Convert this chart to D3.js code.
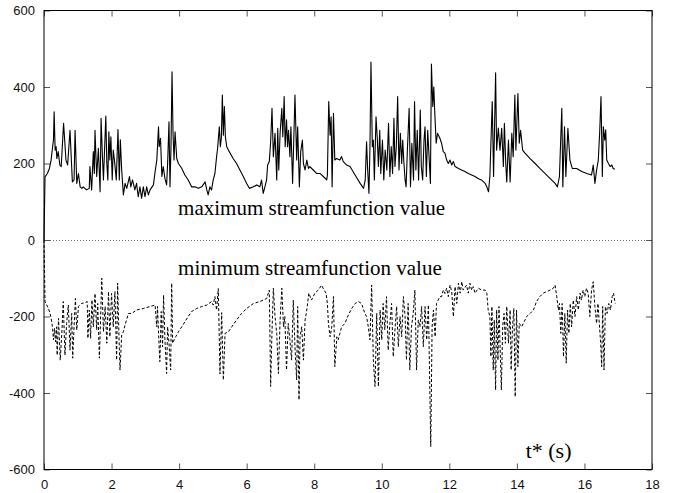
<!DOCTYPE html>
<html>
<head>
<meta charset="utf-8">
<script src="https://cdn.jsdelivr.net/npm/d3@7"></script>
<style>
html,body{margin:0;padding:0;background:#fff;}
svg{display:block;}
</style>
</head>
<body>
<svg id="chart" width="673" height="493"></svg>
<script>
// ---- data ----
const xTicks = [0, 2, 4, 6, 8, 10, 12, 14, 16, 18];
const yTicks = [-600, -400, -200, 0, 200, 400, 600];

const tMax = [0,0.03,0.10,0.16,0.21,0.25,0.28,0.30,0.33,0.36,0.38,0.42,0.47,0.51,0.58,0.65,0.70,0.77,0.84,0.89,0.92,0.97,1.02,1.07,1.12,1.16,1.26,1.34,1.36,1.41,1.46,1.49,1.51,1.56,1.61,1.66,1.69,1.73,1.76,1.83,1.86,1.89,1.92,1.95,1.98,2.02,2.05,2.09,2.14,2.19,2.23,2.26,2.30,2.35,2.40,2.45,2.53,2.57,2.62,2.69,2.74,2.79,2.84,2.89,2.94,2.99,3.04,3.09,3.14,3.24,3.29,3.34,3.39,3.41,3.45,3.49,3.53,3.58,3.63,3.66,3.70,3.73,3.76,3.79,3.82,3.85,3.88,3.93,3.98,4.08,4.17,4.27,4.37,4.47,4.57,4.67,4.77,4.82,4.86,4.91,4.96,5.01,5.06,5.11,5.14,5.19,5.22,5.25,5.28,5.31,5.34,5.37,5.41,5.46,5.51,5.60,5.70,5.80,5.90,6.00,6.08,6.20,6.30,6.39,6.44,6.49,6.54,6.59,6.62,6.67,6.71,6.75,6.79,6.84,6.89,6.92,6.95,6.99,7.04,7.07,7.11,7.14,7.18,7.21,7.24,7.28,7.31,7.36,7.43,7.48,7.51,7.56,7.60,7.65,7.68,7.73,7.78,7.83,7.87,7.97,8.07,8.17,8.27,8.37,8.39,8.43,8.47,8.50,8.53,8.57,8.61,8.66,8.76,8.81,8.86,8.96,9.06,9.21,9.36,9.46,9.51,9.55,9.58,9.62,9.65,9.68,9.72,9.75,9.78,9.83,9.87,9.90,9.94,9.97,10.02,10.06,10.10,10.15,10.20,10.24,10.28,10.32,10.36,10.39,10.43,10.47,10.51,10.55,10.59,10.62,10.65,10.69,10.72,10.76,10.81,10.85,10.89,10.94,10.97,11.01,11.05,11.09,11.14,11.17,11.21,11.25,11.28,11.32,11.36,11.40,11.44,11.47,11.51,11.54,11.57,11.61,11.65,11.72,11.77,11.82,11.87,11.92,11.97,12.02,12.07,12.12,12.17,12.27,12.36,12.46,12.56,12.66,12.76,12.85,12.95,13.06,13.11,13.16,13.20,13.27,13.31,13.37,13.40,13.45,13.50,13.55,13.60,13.63,13.67,13.70,13.75,13.80,13.85,13.89,13.94,13.97,14.03,14.07,14.11,14.17,14.24,14.39,14.54,14.68,14.83,14.98,15.13,15.20,15.26,15.30,15.33,15.36,15.41,15.45,15.51,15.57,15.64,15.77,15.92,16.07,16.21,16.26,16.31,16.36,16.41,16.45,16.49,16.53,16.56,16.60,16.63,16.66,16.71,16.76,16.81,16.85,16.90];
const vMax = [0,165,174,187,209,240,261,335,235,244,213,231,196,192,305,209,196,287,152,157,287,148,174,139,135,139,131,135,192,131,231,174,287,166,240,126,318,218,157,324,200,157,283,209,270,157,235,205,157,289,157,262,183,118,148,135,166,139,157,131,148,113,139,109,139,113,139,118,131,144,179,209,296,244,266,166,192,161,144,200,309,139,244,440,279,209,283,213,200,187,170,157,139,139,135,139,152,131,118,139,131,157,174,218,240,296,244,266,379,274,349,270,244,235,227,213,200,183,166,148,135,139,144,139,157,122,139,157,196,205,257,344,218,279,157,292,183,279,344,270,375,244,314,244,287,218,296,148,379,209,296,139,231,261,200,183,209,187,192,183,174,174,166,157,170,362,274,322,139,331,209,213,209,218,205,196,192,170,148,135,157,257,187,122,244,465,244,261,157,322,261,192,287,174,261,157,235,183,305,166,244,174,318,192,244,375,183,279,200,261,209,157,139,240,344,139,253,157,362,183,287,157,340,192,157,261,296,166,287,218,148,460,349,400,331,253,279,266,253,231,227,209,200,209,196,205,192,187,183,179,174,170,166,161,157,148,139,126,166,362,166,437,235,293,235,292,192,305,200,152,261,152,279,218,379,235,383,253,287,235,227,213,200,187,174,161,148,139,166,270,344,139,296,166,292,209,187,187,179,174,170,196,148,183,209,279,375,166,296,261,288,209,200,192,196,187,185];

const tMin = [0,0.03,0.08,0.13,0.18,0.21,0.25,0.28,0.31,0.34,0.37,0.39,0.43,0.48,0.53,0.57,0.62,0.67,0.72,0.77,0.82,0.85,0.89,0.93,0.97,1.02,1.11,1.21,1.28,1.30,1.34,1.38,1.42,1.46,1.51,1.56,1.59,1.64,1.71,1.76,1.81,1.86,1.91,1.95,2.00,2.05,2.10,2.15,2.18,2.22,2.25,2.30,2.35,2.40,2.50,2.60,2.74,2.94,3.14,3.29,3.34,3.36,3.40,3.43,3.47,3.51,3.54,3.58,3.63,3.66,3.70,3.75,3.78,3.81,3.85,3.90,3.98,4.08,4.17,4.27,4.37,4.52,4.67,4.82,4.96,5.01,5.06,5.11,5.16,5.21,5.26,5.31,5.36,5.46,5.56,5.70,5.85,6.00,6.20,6.39,6.59,6.67,6.71,6.74,6.79,6.84,6.89,6.94,6.99,7.04,7.09,7.13,7.18,7.23,7.28,7.33,7.38,7.43,7.48,7.51,7.55,7.58,7.63,7.68,7.73,7.78,7.84,7.92,8.02,8.12,8.22,8.29,8.35,8.39,8.42,8.47,8.52,8.57,8.61,8.67,8.71,8.76,8.81,8.91,9.01,9.11,9.21,9.31,9.40,9.45,9.50,9.55,9.60,9.65,9.70,9.75,9.80,9.85,9.90,9.95,10.00,10.04,10.09,10.14,10.19,10.24,10.29,10.34,10.39,10.44,10.49,10.54,10.59,10.64,10.69,10.73,10.78,10.83,10.88,10.93,10.98,11.03,11.08,11.13,11.18,11.23,11.28,11.33,11.38,11.41,11.45,11.49,11.53,11.58,11.62,11.72,11.77,11.82,11.87,11.92,11.97,12.02,12.07,12.12,12.17,12.22,12.27,12.32,12.37,12.41,12.51,12.56,12.61,12.66,12.71,12.76,12.86,12.96,13.06,13.11,13.15,13.20,13.23,13.26,13.30,13.33,13.37,13.40,13.44,13.47,13.50,13.54,13.58,13.62,13.66,13.70,13.75,13.80,13.83,13.87,13.91,13.95,13.99,14.03,14.07,14.14,14.19,14.29,14.39,14.49,14.58,14.68,14.78,14.88,14.98,15.08,15.13,15.18,15.23,15.26,15.30,15.34,15.38,15.42,15.46,15.50,15.54,15.58,15.62,15.67,15.72,15.77,15.82,15.87,15.91,15.96,16.01,16.06,16.11,16.16,16.21,16.26,16.31,16.36,16.40,16.44,16.48,16.51,16.54,16.58,16.62,16.67,16.72,16.77,16.82,16.86,16.91];
const vMin = [0,-161,-170,-179,-192,-205,-227,-261,-231,-266,-227,-301,-205,-314,-240,-161,-301,-218,-170,-288,-192,-309,-227,-153,-235,-174,-166,-164,-161,-257,-183,-257,-157,-227,-140,-235,-166,-309,-100,-240,-174,-270,-135,-253,-140,-227,-135,-314,-113,-253,-340,-248,-240,-222,-192,-192,-183,-179,-174,-170,-227,-174,-261,-318,-187,-279,-144,-261,-349,-227,-270,-340,-113,-270,-261,-253,-240,-227,-214,-200,-187,-179,-174,-170,-161,-170,-148,-183,-127,-350,-190,-366,-244,-240,-227,-209,-192,-179,-166,-161,-153,-131,-383,-270,-126,-200,-244,-349,-209,-126,-227,-200,-340,-218,-261,-314,-157,-279,-366,-174,-418,-253,-227,-314,-209,-183,-139,-157,-139,-131,-118,-131,-139,-166,-218,-253,-227,-148,-331,-253,-261,-244,-227,-218,-196,-179,-166,-161,-166,-179,-192,-200,-227,-261,-118,-314,-383,-192,-383,-183,-261,-166,-235,-148,-288,-218,-166,-305,-235,-174,-279,-200,-253,-148,-200,-314,-166,-340,-227,-192,-131,-340,-209,-227,-174,-279,-174,-261,-170,-322,-540,-227,-183,-253,-166,-148,-148,-131,-140,-126,-148,-118,-135,-200,-122,-166,-113,-139,-109,-131,-118,-139,-113,-131,-122,-139,-126,-131,-131,-139,-183,-200,-305,-174,-340,-209,-392,-183,-314,-174,-270,-392,-227,-192,-270,-174,-270,-183,-340,-227,-179,-410,-183,-331,-218,-227,-218,-200,-192,-183,-161,-148,-139,-135,-131,-126,-118,-148,-183,-166,-244,-166,-305,-192,-322,-183,-244,-166,-227,-157,-200,-148,-183,-139,-157,-131,-148,-126,-139,-200,-131,-109,-174,-218,-166,-218,-270,-331,-174,-340,-174,-192,-166,-183,-148,-139,-166];

const labels = [
  {text: "maximum streamfunction value", t: 3.97, v: 66, size: 21},
  {text: "minimum streamfunction value", t: 3.97, v: -92, size: 21},
  {text: "t* (s)", t: 14.26, v: -571, size: 22}
];

// ---- layout ----
const svg = d3.select("#chart");
const L = 44, R = 652, T = 10.5, B = 469.5;
const x = d3.scaleLinear().domain([0, 18]).range([L, R]);
const y = d3.scaleLinear().domain([-600, 600]).range([B, T]);

const tickFont = "'Liberation Sans', Arial, Helvetica, sans-serif";
const serif = "'Liberation Serif', 'Times New Roman', Times, serif";

// zero reference line (dotted)
svg.append("line")
  .attr("x1", x(0)).attr("x2", x(18))
  .attr("y1", Math.round(y(0)) + 0.5).attr("y2", Math.round(y(0)) + 0.5)
  .attr("stroke", "#444").attr("stroke-width", 0.8)
  .attr("stroke-dasharray", "1,2");

// axes with inward ticks on all four sides
const tl = 6;
const fmt = d => String(d);
const axB = d3.axisBottom(x).tickValues(xTicks).tickSizeInner(-tl).tickSizeOuter(0).tickPadding(10).tickFormat(fmt);
const axT = d3.axisTop(x).tickValues(xTicks).tickSizeInner(-tl).tickSizeOuter(0).tickFormat("");
const axL = d3.axisLeft(y).tickValues(yTicks).tickSizeInner(-tl).tickSizeOuter(0).tickPadding(9).tickFormat(fmt);
const axR = d3.axisRight(y).tickValues(yTicks).tickSizeInner(-tl).tickSizeOuter(0).tickFormat("");

function styleAxis(g) {
  g.select(".domain").remove();
  g.selectAll(".tick line").attr("stroke", "#555").attr("stroke-width", 1);
  g.selectAll(".tick text").attr("font-family", tickFont).attr("font-size", 13).attr("fill", "#111");
}
svg.append("g").attr("transform", `translate(0,${B})`).call(axB).call(styleAxis);
svg.append("g").attr("transform", `translate(0,${T})`).call(axT).call(styleAxis);
svg.append("g").attr("transform", `translate(${L},0)`).call(axL).call(styleAxis);
svg.append("g").attr("transform", `translate(${R},0)`).call(axR).call(styleAxis);

// frame
svg.append("rect")
  .attr("x", L).attr("y", T).attr("width", R - L).attr("height", B - T)
  .attr("fill", "none").attr("stroke", "#000").attr("stroke-width", 1);

// series
const lineGen = d3.line().x(d => x(d[0])).y(d => y(d[1]));
const maxData = tMax.map((t, i) => [t, vMax[i]]);
const minData = tMin.map((t, i) => [t, vMin[i]]);

svg.append("path").datum(maxData)
  .attr("d", lineGen).attr("fill", "none")
  .attr("stroke", "#000").attr("stroke-width", 1.1).attr("stroke-linejoin", "round");

svg.append("path").datum(minData)
  .attr("d", lineGen).attr("fill", "none")
  .attr("stroke", "#000").attr("stroke-width", 1)
  .attr("stroke-dasharray", "3,2");

// annotations
svg.selectAll("text.ann").data(labels).enter().append("text")
  .attr("class", "ann")
  .attr("x", d => x(d.t)).attr("y", d => y(d.v))
  .attr("font-family", serif).attr("font-size", d => d.size).attr("fill", "#000")
  .text(d => d.text);
</script>
</body>
</html>
